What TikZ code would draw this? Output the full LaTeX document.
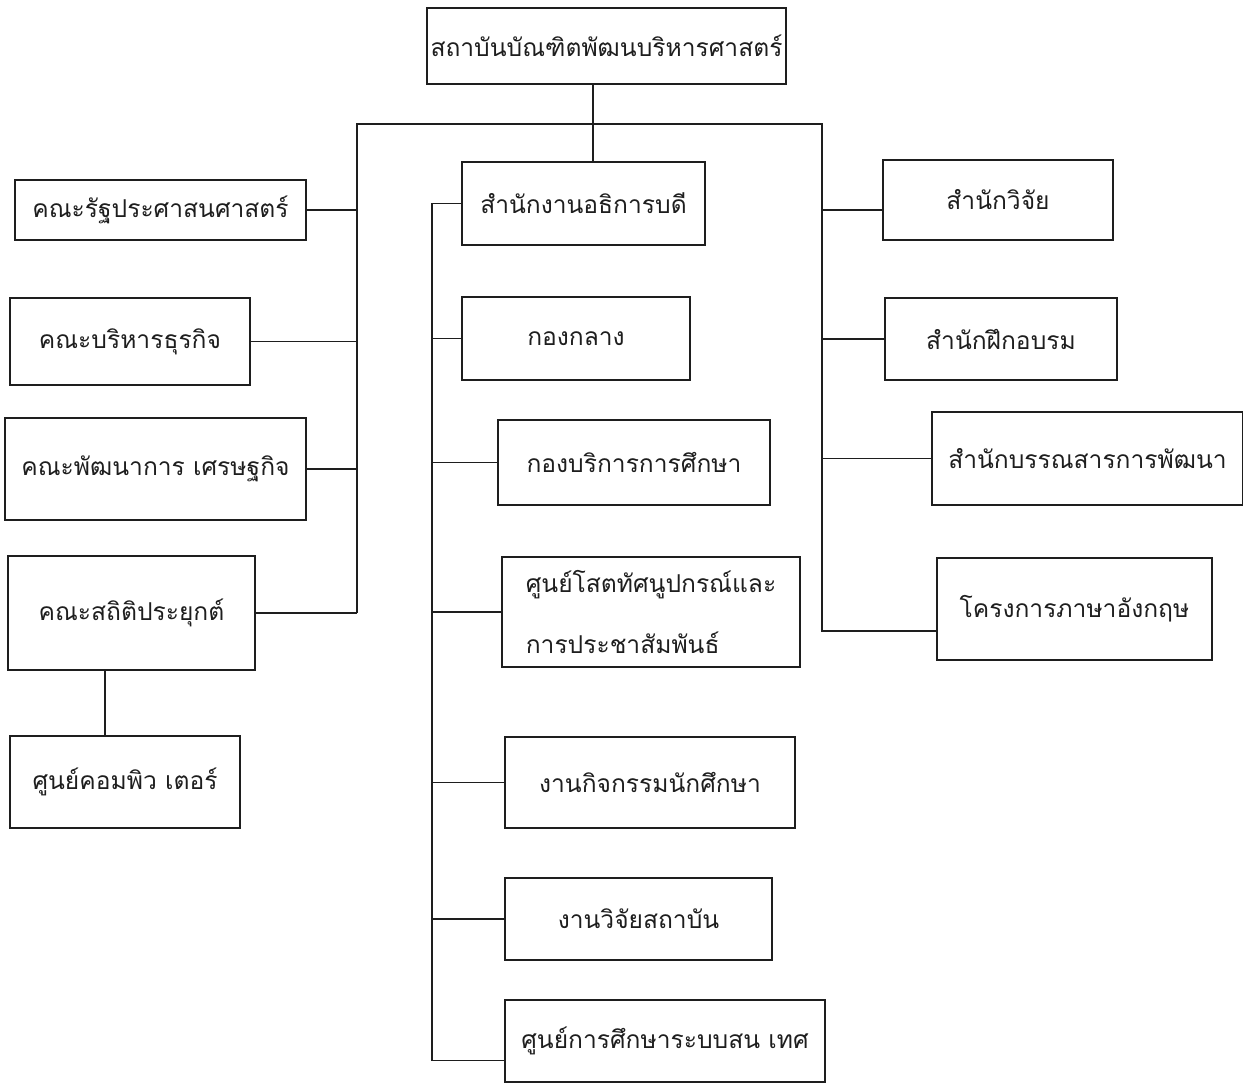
\documentclass[tikz,border=0pt]{standalone}
\usepackage{fontspec}
\newfontfamily\thaifont[Script=Thai]{Loma}
\usetikzlibrary{positioning}
\definecolor{ink}{HTML}{1E1E1E}

\begin{document}
\begin{tikzpicture}[
	x=0.2mm, y=-0.2mm,
	unit/.style={rectangle, draw=ink, line width=0.8pt, inner sep=2pt, text=ink, font=\thaifont\fontsize{14}{20}\selectfont},
	unitbox/.style 2 args={unit, minimum width=#1*0.2mm, minimum height=#2*0.2mm},
	link/.style={draw=ink, line width=0.8pt}
]
\useasboundingbox (0,0) rectangle (1243,1088);

% head
\node[unitbox={359}{76}] (head) at (606.5,46) {สถาบันบัณฑิตพัฒนบริหารศาสตร์};

% faculties
\node[unitbox={291}{60}] (rps) at (160.5,210) {คณะรัฐประศาสนศาสตร์};
\node[unitbox={240}{87}] (busi) at (130,341.5) {คณะบริหารธุรกิจ};
\node[unitbox={301}{102}] (econ) at (155.5,469) {คณะพัฒนาการ เศรษฐกิจ};
\node[unitbox={247}{114}] (stat) at (131.5,613) {คณะสถิติประยุกต์};
\node[unitbox={230}{92}] (comp) at (125,782) {ศูนย์คอมพิว เตอร์};

% office of the president
\node[unitbox={243}{83}] (adm) at (583.5,203.5) {สำนักงานอธิการบดี};
\node[unitbox={228}{83}] (central) at (576,338.5) {กองกลาง};
\node[unitbox={272}{85}] (edu) at (634,462.5) {กองบริการการศึกษา};
\node[unitbox={298}{110}, align=left] (av) at (651,612) {ศูนย์โสตทัศนูปกรณ์และ\\[15pt]การประชาสัมพันธ์};
\node[unitbox={290}{91}] (act) at (650,782.5) {งานกิจกรรมนักศึกษา};
\node[unitbox={267}{82}] (res) at (638.5,919) {งานวิจัยสถาบัน};
\node[unitbox={320}{82}] (info) at (665,1041) {ศูนย์การศึกษาระบบสน เทศ};

% offices
\node[unitbox={230}{80}] (rsch) at (998,200) {สำนักวิจัย};
\node[unitbox={232}{82}] (train) at (1001,339) {สำนักฝึกอบรม};
\node[unitbox={311}{93}] (lib) at (1087.5,458.5) {สำนักบรรณสารการพัฒนา};
\node[unitbox={275}{102}] (eng) at (1074.5,609) {โครงการภาษาอังกฤษ};

\coordinate (busL) at (357,124);
\coordinate (busR) at (822,124);
\coordinate (tap) at (593,124);
\coordinate (spine) at (432,200);

\draw[link] (head.south -| tap) -- (adm.north -| tap);
\draw[link] (busL |- stat) -- (busL) -- (busR) -- (busR |- eng.189) -- (eng.189);
\draw[link] (busL |- stat) -- (stat);

\foreach \u in {rps, busi, econ}
	\draw[link] (\u) -- (busL |- \u);

\foreach \u in {rsch.185, train, lib}
	\draw[link] (busR |- \u) -- (\u);

\draw[link] (adm) -- (spine |- adm) -- (spine |- info.187) -- (info.187);
\foreach \u in {central, edu, av, act, res}
	\draw[link] (spine |- \u) -- (\u);

\draw[link] (stat.south -| comp.113) -- (comp.113);

\end{tikzpicture}
\end{document}
